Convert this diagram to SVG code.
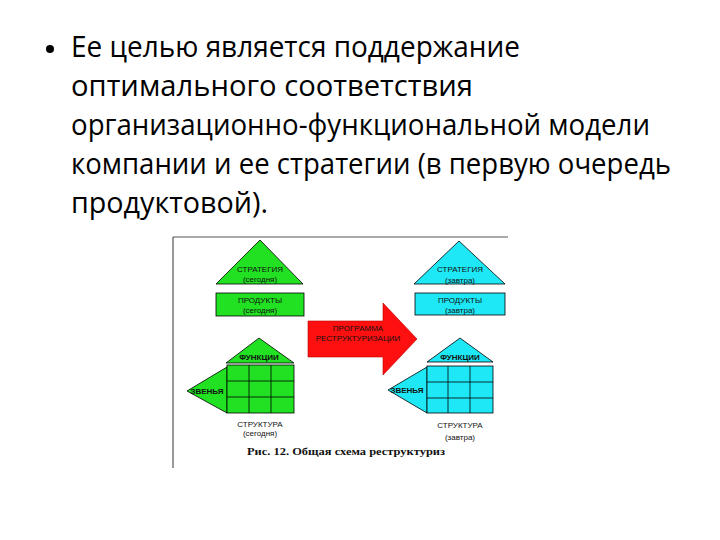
<svg xmlns="http://www.w3.org/2000/svg" width="720" height="540" viewBox="0 0 720 540">
<style>
.body{font-family:"Open Sans","Liberation Sans",sans-serif;font-size:29px;fill:#000}
.s{font-family:"Liberation Sans",Arial,sans-serif;font-size:8px;fill:#111;text-anchor:middle}
.b{font-weight:bold}
.g{fill:#22e022;stroke:#000;stroke-width:0.8}
.c{fill:#1ee8f5;stroke:#000;stroke-width:0.8}
.ln{stroke:#000;stroke-width:0.8;fill:none}
.cap{font-family:"Liberation Serif","Times New Roman",serif;font-size:11px;font-weight:bold;fill:#111}
</style>
<rect width="720" height="540" fill="#fff"/>
<g id="bullet-text">
<circle cx="50" cy="49" r="4" fill="#000"/>
<text class="body" x="71" y="57" textLength="449" lengthAdjust="spacingAndGlyphs">Ее целью является поддержание</text>
<text class="body" x="71" y="96" textLength="402" lengthAdjust="spacingAndGlyphs">оптимального соответствия</text>
<text class="body" x="71" y="135" textLength="579" lengthAdjust="spacingAndGlyphs">организационно-функциональной модели</text>
<text class="body" x="71" y="174" textLength="600" lengthAdjust="spacingAndGlyphs">компании и ее стратегии (в первую очередь</text>
<text class="body" x="71" y="213" textLength="197" lengthAdjust="spacingAndGlyphs">продуктовой).</text>
</g>
<g id="frame">
<path d="M173 237 H508 M173 237 V468" stroke="#555" stroke-width="1.2" fill="none"/>
</g>
<g id="strategy-today">
<polygon class="g" points="260,240 216,284 303,284"/>
<text class="s" x="260" y="272">СТРАТЕГИЯ</text>
<text class="s" x="260" y="282">(сегодня)</text>
</g>
<g id="products-today">
<rect class="g" x="216" y="293" width="88" height="23"/>
<text class="s" x="260" y="303">ПРОДУКТЫ</text>
<text class="s" x="260" y="313">(сегодня)</text>
</g>
<g id="strategy-tomorrow">
<polygon class="c" points="459,241 414,284 505,284"/>
<text class="s" x="460" y="272">СТРАТЕГИЯ</text>
<text class="s" x="460" y="283">(завтра)</text>
</g>
<g id="products-tomorrow">
<rect class="c" x="415" y="293" width="90" height="22"/>
<text class="s" x="460" y="303">ПРОДУКТЫ</text>
<text class="s" x="460" y="313">(завтра)</text>
</g>
<g id="connectors">
<polygon points="308,321 383,321 383,303 417,339 383,375 383,357 308,357" fill="#ff1010" stroke="#b00" stroke-width="0.6"/>
<text class="s" x="358" y="331" fill="#500">ПРОГРАММА</text>
<text class="s" x="358" y="341" fill="#500">РЕСТРУКТУРИЗАЦИИ</text>
</g>
<g id="structure-today">
<polygon class="g" points="259,338 226,363 294,363"/>
<polygon class="g" points="187,391 227,367 227,413"/>
<rect class="g" x="227" y="365" width="67" height="48"/>
<path class="ln" d="M249 365 V413 M271 365 V413 M227 381 H294 M227 397 H294"/>
<text class="s b" x="259" y="360">ФУНКЦИИ</text>
<text class="s b" x="207" y="394">ЗВЕНЬЯ</text>
<text class="s" x="260" y="427">СТРУКТУРА</text>
<text class="s" x="260" y="436">(сегодня)</text>
</g>
<g id="structure-tomorrow">
<polygon class="c" points="460,338 427,362 493,362"/>
<polygon class="c" points="388,390 427,367 427,413"/>
<rect class="c" x="427" y="366" width="66" height="47"/>
<path class="ln" d="M448 366 V413 M470 366 V413 M427 382 H493 M427 398 H493"/>
<text class="s b" x="460" y="360">ФУНКЦИИ</text>
<text class="s b" x="407" y="393">ЗВЕНЬЯ</text>
<text class="s" x="460" y="428">СТРУКТУРА</text>
<text class="s" x="460" y="440">(завтра)</text>
</g>
<g id="caption">
<text class="cap" x="247" y="455" textLength="198" lengthAdjust="spacingAndGlyphs">Рис. 12. Общая схема реструктуриз</text>
</g>
</svg>
